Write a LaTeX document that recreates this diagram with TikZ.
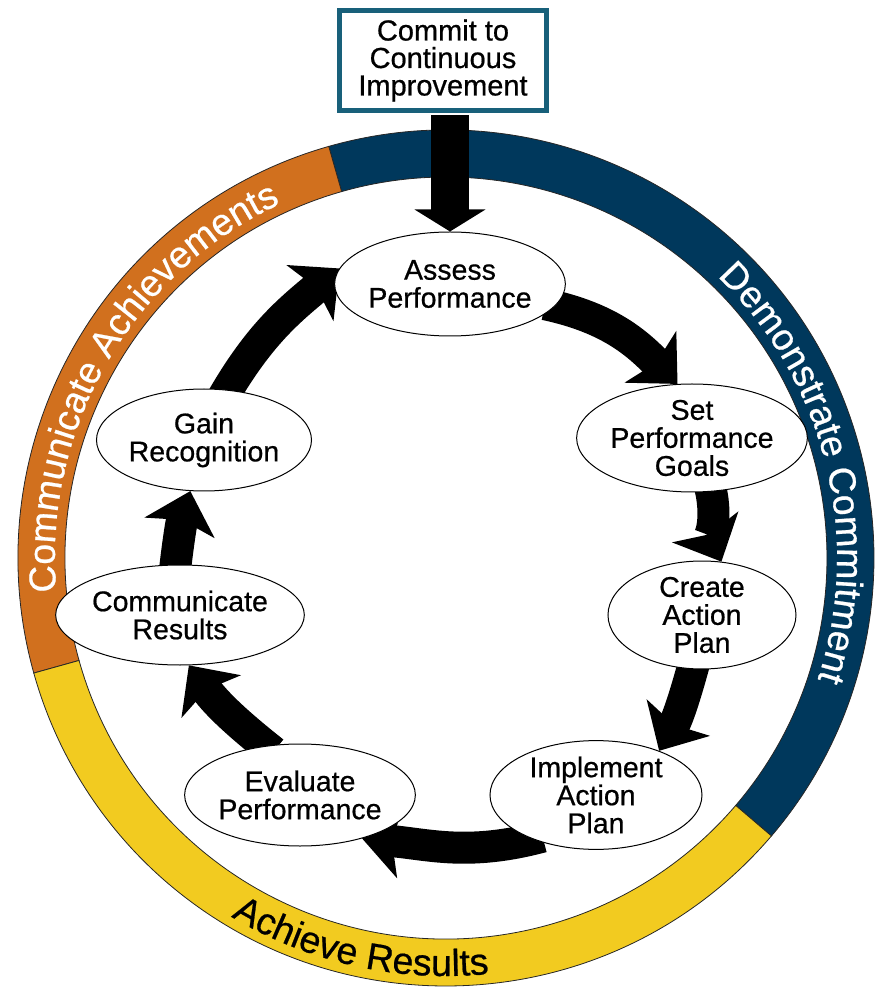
\documentclass[tikz,border=0pt]{standalone}
\usepackage{fontspec}
\setmainfont{Liberation Sans}[FakeBold=0.6]
\usetikzlibrary{shapes.geometric,arrows.meta,decorations.text,backgrounds}

\definecolor{ringblue}{RGB}{0,56,92}
\definecolor{ringorange}{RGB}{209,112,30}
\definecolor{ringyellow}{RGB}{242,203,32}
\definecolor{boxteal}{RGB}{24,96,122}
\newcommand\ringsize{\fontsize{37.5}{40}\selectfont}

\begin{document}
\begin{tikzpicture}[x=1pt, y=1pt,
		align=center,
		stage/.style={ellipse, draw, fill=white, line width=1pt, inner sep=0pt,
			font=\fontsize{28.5}{28}\selectfont},
		goalbox/.style={draw=boxteal, fill=white, line width=4.5pt, inner sep=0pt,
			minimum width=207pt, minimum height=100pt, font=\fontsize{29}{27.5}\selectfont},
		flow/.style={line width=32pt, shorten <=-10pt, -{Stealth[length=38pt,width=72pt,inset=8pt]}},
		drop/.style={line width=38pt, shorten <=2.5pt, -{Triangle[length=22pt,width=70pt]}},
		ringpart/.style={draw=black!85, line width=0.8pt},
		ringlabel/.style={decorate, decoration={text along path, text align=center, text color=#1}}]
	
	\useasboundingbox (-446,-430) rectangle (434,558);
	
	% steps of the cycle
	\node[stage, minimum width=215pt, minimum height=104pt] (assess) at (4,274) {Assess\\Performance};
	\node[stage, minimum width=212pt, minimum height=108pt] (goals) at (246,120) {Set\\Performance\\Goals};
	\node[stage, minimum width=188pt, minimum height=108pt] (create) at (256,-57) {Create\\Action\\Plan};
	\node[stage, minimum width=212pt, minimum height=106pt] (implement) at (150,-237) {Implement\\Action\\Plan};
	\node[stage, minimum width=205pt, minimum height=102pt] (evaluate) at (-146,-237) {Evaluate\\Performance};
	\node[stage, minimum width=212pt, minimum height=100pt] (results) at (-266,-57) {Communicate\\Results};
	\node[stage, minimum width=215pt, minimum height=102pt] (gain) at (-242,118) {Gain\\Recognition};
	
	\node[goalbox] (commit) at (-3,497.5) {Commit to\\Continuous\\Improvement};
	
	\begin{scope}[on background layer]
		% outer ring
		\draw[ringpart, fill=ringblue] (105.9:428) arc[start angle=105.9, end angle=-40.5, radius=428]
			-- (-40.5:381) arc[start angle=-40.5, end angle=105.9, radius=381] -- cycle;
		\draw[ringpart, fill=ringorange] (195.6:428) arc[start angle=195.6, end angle=105.9, radius=428]
			-- (105.9:381) arc[start angle=105.9, end angle=195.6, radius=381] -- cycle;
		\draw[ringpart, fill=ringyellow] (319.5:428) arc[start angle=319.5, end angle=195.6, radius=428]
			-- (195.6:381) arc[start angle=195.6, end angle=319.5, radius=381] -- cycle;
		
		\path[ringlabel=white, decoration={text={|\ringsize|Demonstrate Commitment}}]
			(50:391) arc[start angle=50, end angle=-22, radius=391];
		\path[ringlabel=white, decoration={text={|\ringsize|Communicate Achievements}}]
			(195:391) arc[start angle=195, end angle=105, radius=391];
		\path[ringlabel=black, decoration={text={|\ringsize|Achieve Results}}]
			(230:418) arc[start angle=230, end angle=285, radius=418];
		
		% arrows between the steps
		\draw[flow] (assess.-12) to[out=-12, in=135] (goals.105);
		\draw[flow] (goals.-70) to[out=-75, in=115] (create.70);
		\draw[flow] (create.-100) to[out=-105, in=60] (implement.35);
		\draw[flow] (implement.-145) to[out=195, in=-5] (evaluate.-35);
		\draw[flow] (evaluate.125) to[bend left=8] (results.-80);
		\draw[flow] (results.95) to[bend left=5] (gain.-105);
		\draw[flow] (gain.65) to[out=60, in=220] (assess.172);
	\end{scope}
	
	\draw[drop] (assess.north |- commit.south) -- (assess.north);
	
\end{tikzpicture}
\end{document}
